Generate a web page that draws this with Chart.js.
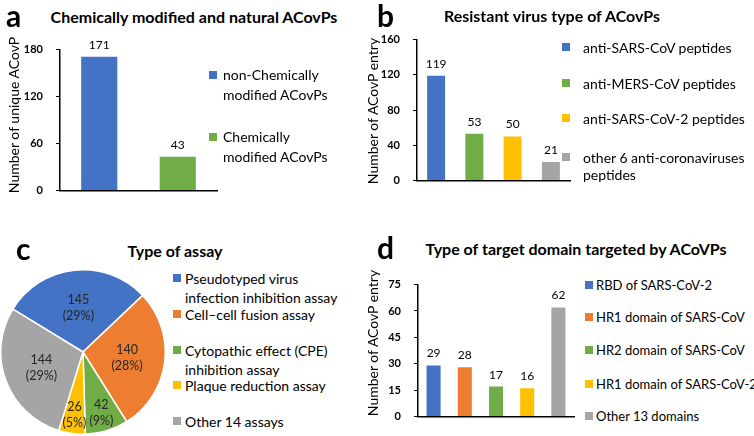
<!DOCTYPE html>
<html>
<head>
<meta charset="utf-8">
<script src="https://cdn.jsdelivr.net/npm/chart.js@4.4.0/dist/chart.umd.min.js"></script>
<style>
body{margin:0;width:754px;height:436px;position:relative;background:#fff;font-family:Lato,"DejaVu Sans",sans-serif;color:#000;overflow:hidden}
canvas{position:absolute}
.t{position:absolute;white-space:nowrap;line-height:1.2}
.letter{font-weight:bold;font-size:30px;line-height:1}
.title{font-weight:bold;font-size:16px;transform:translateX(-50%)}
.ytitle{font-size:14px;transform:translate(-50%,-50%) rotate(-90deg)}
.leg{position:absolute;white-space:nowrap;font-size:14px}
.leg i{position:absolute;left:0;width:8px;height:8px}
</style>
</head>
<body>
<canvas id="ca" width="222" height="180" style="left:0;top:30px"></canvas>
<canvas id="cb" width="200" height="180" style="left:377px;top:20px"></canvas>
<canvas id="cc" width="166" height="166" style="left:0;top:269px"></canvas>
<canvas id="cd" width="200" height="171" style="left:377px;top:265px"></canvas>
<script>
// panel a
const modLabels = [['non-Chemically', 'modified ACovPs'], ['Chemically', 'modified ACovPs']];
const modValues = [171, 43];
const modTicks = [0, 60, 120, 180];

// panel b
const virusLabels = [['anti-SARS-CoV peptides'], ['anti-MERS-CoV peptides'], ['anti-SARS-CoV-2 peptides'], ['other 6 anti-coronaviruses', 'peptides']];
const virusValues = [119, 53, 50, 21];
const virusTicks = [0, 40, 80, 120, 160];

// panel c
const assayLabels = [['Pseudotyped virus', 'infection inhibition assay'], ['Cell\u2013cell fusion assay'], ['Cytopathic effect (CPE)', 'inhibition assay'], ['Plaque reduction assay'], ['Other 14 assays']];
const assayValues = [145, 140, 42, 26, 144];
const assayPct = ['29%', '28%', '9%', '5%', '29%'];

// panel d
const domainLabels = [['RBD of SARS-CoV-2'], ['HR1 domain of SARS-CoV'], ['HR2 domain of SARS-CoV'], ['HR1 domain of SARS-CoV-2'], ['Other 13 domains']];
const domainValues = [29, 28, 17, 16, 62];
const domainTicks = [0, 15, 30, 45, 60, 75];

const blue = '#4472C4', orange = '#ED7D31', green = '#70AD47', yellow = '#FFC000', grey = '#A5A5A5';
const FONT = 'Lato, "DejaVu Sans", sans-serif';

function text(cls, str, x, y) {
  const d = document.createElement('div');
  d.className = 't ' + cls;
  d.textContent = str;
  d.style.left = x + 'px';
  d.style.top = y + 'px';
  document.body.appendChild(d);
}

function legend(labels, colors, x, textX, centers, lineH, size) {
  labels.forEach((lines, i) => {
    const d = document.createElement('div');
    d.className = 'leg';
    d.style.left = x + 'px';
    d.style.top = (centers[i] - lineH / 2) + 'px';
    d.style.lineHeight = lineH + 'px';
    d.style.paddingLeft = (textX - x) + 'px';
    if (size) d.style.fontSize = size + 'px';
    d.innerHTML = '<i style="top:' + (lineH / 2 - 4) + 'px;background:' + colors[i] + '"></i>' + lines.join('<br>');
    document.body.appendChild(d);
  });
}

const valueLabels = {
  id: 'valueLabels',
  afterDatasetsDraw(chart) {
    const ctx = chart.ctx;
    const ds = chart.data.datasets[0];
    ctx.save();
    ctx.font = '12px ' + FONT;
    ctx.fillStyle = '#000';
    ctx.textAlign = 'center';
    chart.getDatasetMeta(0).data.forEach((bar, i) => {
      ctx.fillText(ds.data[i], bar.x, bar.y - 8);
    });
    ctx.restore();
  }
};

function barChart(id, labels, values, colors, ticks, yw, pad, pct) {
  new Chart(document.getElementById(id), {
    type: 'bar',
    data: {
      labels: labels,
      datasets: [{ data: values, backgroundColor: colors, categoryPercentage: 1, barPercentage: pct }]
    },
    options: {
      responsive: false,
      animation: false,
      layout: { padding: pad },
      plugins: { legend: { display: false }, tooltip: { enabled: false } },
      scales: {
        x: {
          ticks: { display: false },
          grid: { display: false },
          border: { color: '#000', width: 1.5 },
          afterFit(s) { s.height = 0; }
        },
        y: {
          min: ticks[0],
          max: ticks[ticks.length - 1],
          afterBuildTicks(s) { s.ticks = ticks.map(v => ({ value: v })); },
          ticks: { color: '#000', padding: 13, font: { family: FONT, size: 11, weight: 'bold' } },
          grid: { drawOnChartArea: false, drawTicks: true, tickLength: 4, color: '#000', lineWidth: 1 },
          border: { color: '#000', width: 1.5 },
          afterFit(s) { s.width = yw; }
        }
      }
    },
    plugins: [valueLabels]
  });
}

barChart('ca', modLabels, modValues, [blue, green], modTicks, 60, { left: 0, top: 18, right: 5, bottom: 12 }, 0.46);
barChart('cb', virusLabels, virusValues, [blue, green, yellow, grey], virusTicks, 40, { left: 0, top: 15, right: 7, bottom: 9 }, 0.47);
barChart('cd', domainLabels, domainValues, [blue, orange, green, yellow, grey], domainTicks, 41, { left: 0, top: 15, right: 3, bottom: 6 }, 0.45);

const pieLabels = {
  id: 'pieLabels',
  afterDatasetsDraw(chart) {
    const ctx = chart.ctx;
    const ds = chart.data.datasets[0];
    ctx.save();
    ctx.font = '12.5px ' + FONT;
    ctx.fillStyle = '#262626';
    ctx.textAlign = 'center';
    ctx.textBaseline = 'middle';
    chart.getDatasetMeta(0).data.forEach((arc, i) => {
      const p = arc.getProps(['x', 'y', 'startAngle', 'endAngle', 'outerRadius'], true);
      const mid = (p.startAngle + p.endAngle) / 2;
      const f = (p.endAngle - p.startAngle) < 0.7 ? 0.77 : 0.54;
      const x = p.x + Math.cos(mid) * p.outerRadius * f;
      const y = p.y + Math.sin(mid) * p.outerRadius * f;
      ctx.fillText(ds.data[i], x, y - 8);
      ctx.fillText('(' + assayPct[i] + ')', x, y + 8);
    });
    ctx.restore();
  }
};

new Chart(document.getElementById('cc'), {
  type: 'pie',
  data: {
    labels: assayLabels,
    datasets: [{ data: assayValues, backgroundColor: [blue, orange, green, yellow, grey], borderColor: '#fff', borderWidth: 1.5 }]
  },
  options: {
    responsive: false,
    animation: false,
    rotation: -58.5,
    plugins: { legend: { display: false }, tooltip: { enabled: false } }
  },
  plugins: [pieLabels]
});

// letters, titles, axis titles
text('letter', 'a', 6, 0);
text('letter', 'b', 377, 0);
text('letter', 'c', 16, 233);
text('letter', 'd', 377, 232);
text('title', 'Chemically modified and natural ACovPs', 194, 7);
text('title', 'Resistant virus type of ACovPs', 552, 6);
text('title', 'Type of assay', 175, 241);
text('title', 'Type of target domain targeted by ACoVPs', 576, 239);
text('ytitle', 'Number of unique ACovP', 14, 115);
text('ytitle', 'Number of ACovP entry', 373, 111);
text('ytitle', 'Number of ACovP entry', 373, 343);

legend(modLabels, [blue, green], 209, 223, [75, 137], 20);
legend(virusLabels, [blue, green, yellow, grey], 562, 583, [47, 83, 118, 157], 17);
legend(assayLabels, [blue, orange, green, yellow, grey], 173, 185, [278, 314, 350, 385, 421], 19);
legend(domainLabels, [blue, orange, green, yellow, grey], 585, 596, [285, 317, 350, 384, 416], 20, 13);
</script>
</body>
</html>
